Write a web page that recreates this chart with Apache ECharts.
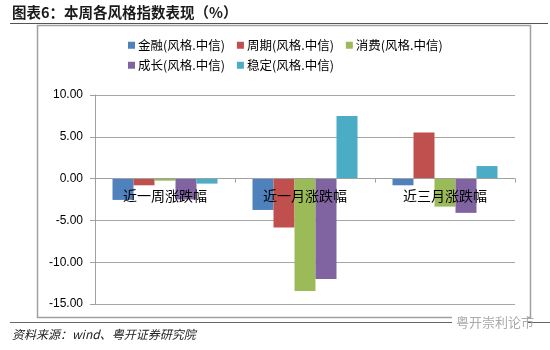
<!DOCTYPE html>
<html><head><meta charset="utf-8">
<script src="https://cdn.jsdelivr.net/npm/echarts@6/dist/echarts.min.js"></script>
<style>html,body{margin:0;padding:0;background:#fff}#c{width:550px;height:350px}</style>
</head><body><div id="c"></div>
<script>
const categories = ['近一周涨跌幅', '近一月涨跌幅', '近三月涨跌幅'];
const seriesNames = ['金融(风格.中信)', '周期(风格.中信)', '消费(风格.中信)', '成长(风格.中信)', '稳定(风格.中信)'];
const jinrong = [-2.55, -3.75, -0.8];
const zhouqi = [-0.8, -5.85, 5.5];
const xiaofei = [-0.25, -13.45, -3.35];
const chengzhang = [-2.5, -12.0, -4.1];
const wending = [-0.6, 7.5, 1.5];
const yTicks = {min: -15, max: 10, interval: 5};
const colors = ['#4f81bd', '#c0504d', '#9bbb59', '#8064a2', '#4bacc6'];
const values = [jinrong, zhouqi, xiaofei, chengzhang, wending];
const font = '"Noto Sans CJK SC", "Liberation Sans", sans-serif';

const gridTop = 95, gridBottom = 46, H = 350;
const plotH = H - gridTop - gridBottom;
// shift the category axis up so it sits on the zero line
const zeroOffset = -plotH * (0 - yTicks.min) / (yTicks.max - yTicks.min);

const legendBase = {
  left: 123, itemWidth: 7, itemHeight: 7, itemGap: 12, icon: 'rect',
  textStyle: {fontSize: 12.5, color: '#000', padding: [0, 0, 0, -2], fontFamily: font}
};

const chart = echarts.init(document.getElementById('c'), null, {renderer: 'canvas'});
chart.setOption({
  animation: false,
  color: colors,
  textStyle: {fontFamily: font},
  grid: {left: 95, right: 35, top: gridTop, bottom: gridBottom},
  legend: [
    Object.assign({}, legendBase, {top: 34, data: seriesNames.slice(0, 3)}),
    Object.assign({}, legendBase, {top: 54, data: seriesNames.slice(3)})
  ],
  xAxis: {
    type: 'category', data: categories,
    offset: zeroOffset,
    axisLine: {onZero: false, lineStyle: {color: '#a0a0a0', width: 1}},
    axisTick: {show: true, length: 4, lineStyle: {color: '#a0a0a0'}},
    axisLabel: {fontSize: 14, color: '#000', margin: 10, fontFamily: font},
    z: 10
  },
  yAxis: {
    type: 'value', min: yTicks.min, max: yTicks.max, interval: yTicks.interval,
    axisLine: {show: true, lineStyle: {color: '#a0a0a0'}},
    axisTick: {show: true, length: 5, lineStyle: {color: '#a0a0a0'}},
    axisLabel: {fontSize: 12, color: '#000', margin: 12, fontFamily: '"Liberation Sans", sans-serif',
      formatter: v => v.toFixed(2)},
    splitLine: {lineStyle: {color: '#a6a6a6', width: 1}}
  },
  series: seriesNames.map((n, i) => ({
    name: n, type: 'bar', data: values[i], barGap: '0%', barCategoryGap: '25%',
    itemStyle: {color: colors[i]}
  })),
  graphic: [
    {type: 'text', left: 12, top: 5, style: {text: '图表6：本周各风格指数表现（%）', font: 'bold 14.5px "Noto Sans CJK SC"', fill: '#1a1a1a'}},
    {type: 'line', shape: {x1: 10, y1: 23.5, x2: 548, y2: 23.5}, style: {stroke: '#555', lineWidth: 1}},
    {type: 'rect', shape: {x: 37.5, y: 25.5, width: 493, height: 292}, style: {fill: 'none', stroke: '#a0a0a0', lineWidth: 1.5}, z: -1},
    {type: 'line', shape: {x1: 10, y1: 322.5, x2: 550, y2: 322.5}, style: {stroke: '#666', lineWidth: 1}},
    {type: 'text', left: 12, top: 328, style: {text: '资料来源：wind、粤开证券研究院', font: 'italic 12px "Noto Sans CJK SC"', fill: '#222'}},
    {type: 'rect', shape: {x: 452, y: 316, width: 76, height: 14}, style: {fill: '#fff'}, z: 5},
    {type: 'text', left: 456, top: 316, z: 6, style: {text: '粤开崇利论市', font: '13px "Noto Sans CJK SC"', fill: '#aaaaaa'}}
  ]
});
</script></body></html>
